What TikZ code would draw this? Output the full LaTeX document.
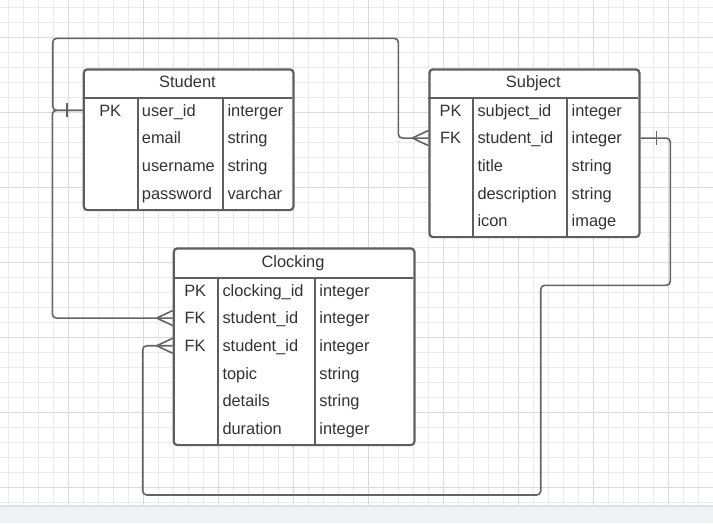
\documentclass[tikz,border=0pt]{standalone}
\usepackage{fontspec}
\setmainfont{Liberation Sans}
\usetikzlibrary{calc}
\definecolor{boxc}{HTML}{5E5E5E}
\definecolor{linec}{HTML}{646464}
\definecolor{txt}{HTML}{333333}
\definecolor{gminor}{HTML}{EBEBEB}
\definecolor{gmajor}{HTML}{DADADA}
\definecolor{stripc}{HTML}{F1F2F4}
\definecolor{stripedge}{HTML}{DEE0E3}
\newcommand{\cellfont}{\fontsize{16.4}{19}\selectfont}
\begin{document}
\begin{tikzpicture}[x=1pt,y=-1pt,
  box/.style={draw=boxc, line width=2.2pt, rounded corners=3.5pt, fill=white, inner sep=0pt, anchor=north west},
  divline/.style={draw=boxc, line width=2.2pt},
  cell/.style={anchor=base west, inner sep=0pt, text=txt, font=\cellfont},
  key/.style={anchor=base, inner sep=0pt, text=txt, font=\cellfont},
  conn/.style={draw=linec, line width=1.6pt, rounded corners=4pt},
  foot/.style={draw=linec, line width=1.6pt},
  gridminor/.style={draw=gminor, line width=1pt},
  gridmajor/.style={draw=gmajor, line width=1pt}]
\useasboundingbox (0,0) rectangle (713,523);
\fill[white] (0,0) rectangle (713,523);
% grid
\foreach \k in {0,...,47} \draw[gridminor] ({8.3+15*\k},0) -- ({8.3+15*\k},505.7);
\foreach \k in {0,...,33} \draw[gridminor] (0,{7.3+15*\k}) -- (713,{7.3+15*\k});
\foreach \m in {0,...,8} \draw[gridmajor] ({68.3+75*\m},0) -- ({68.3+75*\m},505.7);
\foreach \m in {0,...,6} \draw[gridmajor] (0,{37.3+75*\m}) -- (713,{37.3+75*\m});
\fill[stripc] (0,505.7) rectangle (713,523);
\draw[stripedge, line width=1.5pt] (0,506) -- (713,506);

% Student
\node[box, minimum width=209.6pt, minimum height=140.7pt] (student) at (82.7,68.3) {};
\draw[divline] (82.7,97.7) -- (292.3,97.7);
\draw[divline] (137.7,97.7) -- (137.7,209);
\draw[divline] (223.3,97.7) -- (223.3,209);
\node[key] (stuTitle) at (187.5,87.7) {Student};
\node[key] (sPK) at (110.2,116) {PK};
\node[cell] (s1) at (141.7,116) {user\_id};
\node[cell] (s2) at (141.7,143.7) {email};
\node[cell] (s3) at (141.7,171.4) {username};
\node[cell] (s4) at (141.7,199.1) {password};
\node[cell] (t1) at (227.3,116) {interger};
\node[cell] (t2) at (227.3,143.7) {string};
\node[cell] (t3) at (227.3,171.4) {string};
\node[cell] (t4) at (227.3,199.1) {varchar};

% Subject
\node[box, minimum width=210pt, minimum height=167.7pt] (subject) at (428.3,68.3) {};
\draw[divline] (428.3,97.7) -- (638.3,97.7);
\draw[divline] (472.7,97.7) -- (472.7,236);
\draw[divline] (567.3,97.7) -- (567.3,236);
\node[key] (subTitle) at (533.3,87.5) {Subject};
\node[key] (uPK) at (450.5,116) {PK};
\node[key] (sFK) at (450.5,143.7) {FK};
\node[cell] (u1) at (477.3,116) {subject\_id};
\node[cell] (u2) at (477.3,143.7) {student\_id};
\node[cell] (u3) at (477.3,171.4) {title};
\node[cell] (u4) at (477.3,199.1) {description};
\node[cell] (u5) at (477.3,226.8) {icon};
\node[cell] (v1) at (571.5,116) {integer};
\node[cell] (v2) at (571.5,143.7) {integer};
\node[cell] (v3) at (571.5,171.4) {string};
\node[cell] (v4) at (571.5,199.1) {string};
\node[cell] (v5) at (571.5,226.8) {image};

% Clocking
\node[box, minimum width=240.6pt, minimum height=196.7pt] (clocking) at (172.7,247.3) {};
\draw[divline] (172.7,277.7) -- (413.3,277.7);
\draw[divline] (217.7,277.7) -- (217.7,444);
\draw[divline] (315,277.7) -- (315,444);
\node[key] (cloTitle) at (293,267) {Clocking};
\node[key] (cPK) at (195.2,296) {PK};
\node[key] (cFK1) at (195.2,323.7) {FK};
\node[key] (cFK2) at (195.2,351.4) {FK};
\node[cell] (c1) at (222.3,296) {clocking\_id};
\node[cell] (c2) at (222.3,323.7) {student\_id};
\node[cell] (c3) at (222.3,351.4) {student\_id};
\node[cell] (c4) at (222.3,379.1) {topic};
\node[cell] (c5) at (222.3,406.8) {details};
\node[cell] (c6) at (222.3,434.5) {duration};
\node[cell] (d1) at (319.2,296) {integer};
\node[cell] (d2) at (319.2,323.7) {integer};
\node[cell] (d3) at (319.2,351.4) {integer};
\node[cell] (d4) at (319.2,379.1) {string};
\node[cell] (d5) at (319.2,406.8) {string};
\node[cell] (d6) at (319.2,434.5) {integer};

% connectors
\coordinate (railTL) at (52.7,38.3);
\coordinate (railTR) at (398.3,38.3);
\coordinate (railL) at (52.3,200);
\coordinate (railR) at (670.3,285.3);
\coordinate (railM) at (540.7,495);
\coordinate (railB) at (142.7,400);

\draw[conn] (student.west |- sPK) -| (railTL) -- (railTR) |- (subject.west |- sFK);
\draw[conn] (student.west |- sPK) -| (railL) |- (clocking.west |- cFK1);
\draw[conn] (subject.east |- sFK) -| (railR) -| (railM) -| (railB) |- (clocking.west |- cFK2);

% ends
\coordinate (f1) at (subject.west |- sFK);
\coordinate (f2) at (clocking.west |- cFK1);
\coordinate (f3) at (clocking.west |- cFK2);
\coordinate (b1) at (student.west |- sPK);
\coordinate (b2) at (subject.east |- sFK);
\foreach \f in {f1,f2,f3}
  \draw[foot] ($(\f)+(-16,0)$) -- ($(\f)+(0,-7.5)$) ($(\f)+(-16,0)$) -- ($(\f)+(0,7.5)$);
\draw[foot] ($(b1)+(-16,-7)$) -- ($(b1)+(-16,7)$);
\draw[foot] ($(b2)+(16,-7)$) -- ($(b2)+(16,7)$);
\end{tikzpicture}
\end{document}
